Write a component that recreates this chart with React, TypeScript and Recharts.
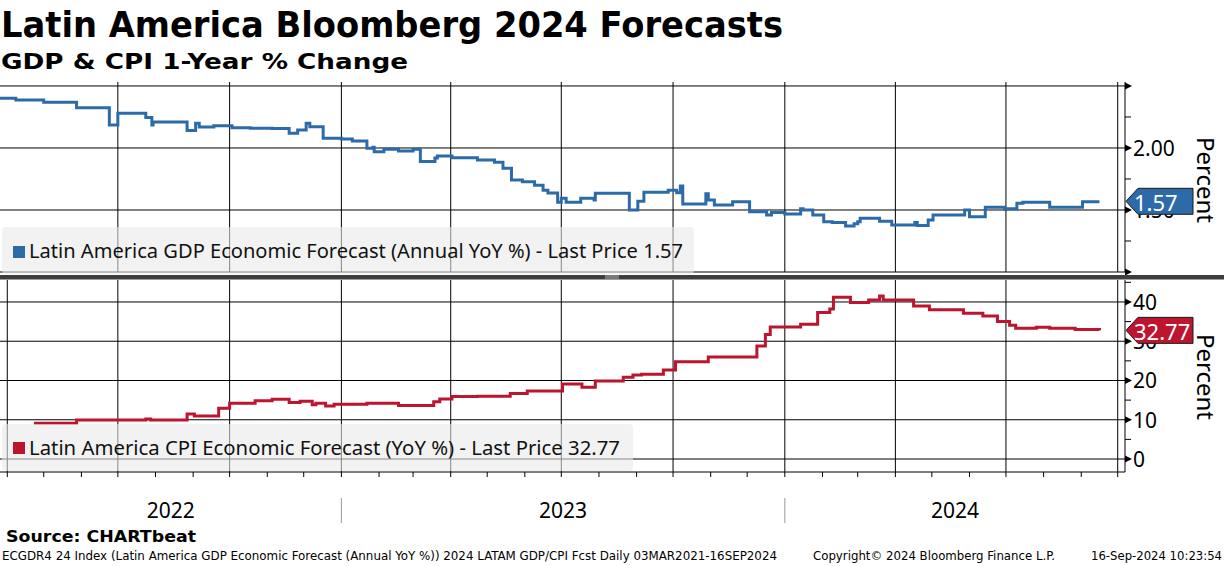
import React from 'react';
import { LineChart, Line, XAxis, YAxis, CartesianGrid } from 'recharts';

// ---------------- DATA ----------------
const gdpDates = [
  '2022-03-26', '2022-04-08', '2022-05-01', '2022-05-28', '2022-06-24', '2022-07-01', '2022-07-24', '2022-07-29',
  '2022-07-30', '2022-08-27', '2022-09-03', '2022-09-06', '2022-09-18', '2022-10-03', '2022-10-18', '2022-11-05',
  '2022-11-19', '2022-11-26', '2022-12-03', '2022-12-06', '2022-12-17', '2023-01-01', '2023-01-10', '2023-01-22',
  '2023-01-27', '2023-01-28', '2023-02-05', '2023-02-17', '2023-03-01', '2023-03-07', '2023-03-19', '2023-03-21',
  '2023-04-02', '2023-04-23', '2023-05-07', '2023-05-14', '2023-05-21', '2023-05-30', '2023-06-09', '2023-06-16',
  '2023-06-20', '2023-06-28', '2023-07-01', '2023-07-05', '2023-07-17', '2023-07-28', '2023-07-29', '2023-08-26',
  '2023-09-02', '2023-09-07', '2023-09-27', '2023-10-04', '2023-10-07', '2023-10-09', '2023-10-28', '2023-10-30',
  '2023-11-04', '2023-11-19', '2023-12-03', '2023-12-17', '2023-12-21', '2024-01-01', '2024-01-14', '2024-01-16',
  '2024-01-24', '2024-02-02', '2024-02-09', '2024-02-20', '2024-02-27', '2024-03-01', '2024-03-03', '2024-03-19',
  '2024-03-29', '2024-04-17', '2024-04-19', '2024-04-28', '2024-05-02', '2024-05-28', '2024-06-01', '2024-06-14',
  '2024-06-30', '2024-07-10', '2024-07-15', '2024-08-06', '2024-09-02', '2024-09-16',
];
const gdpValues = [
  2.40, 2.387, 2.368, 2.325, 2.185, 2.28, 2.245, 2.185,
  2.21, 2.14, 2.20, 2.17, 2.18, 2.164, 2.16, 2.157,
  2.118, 2.145, 2.20, 2.172, 2.078, 2.072, 2.056, 1.997,
  2.005, 1.97, 1.99, 1.975, 1.99, 1.89, 1.92, 1.935,
  1.922, 1.903, 1.885, 1.836, 1.742, 1.728, 1.70, 1.66,
  1.638, 1.562, 1.594, 1.562, 1.594, 1.58, 1.635, 1.50,
  1.57, 1.643, 1.66, 1.64, 1.694, 1.548, 1.63, 1.58,
  1.54, 1.567, 1.486, 1.46, 1.48, 1.468, 1.51, 1.50,
  1.46, 1.406, 1.40, 1.371, 1.39, 1.406, 1.433, 1.41,
  1.379, 1.40, 1.374, 1.42, 1.46, 1.50, 1.446, 1.522,
  1.51, 1.554, 1.562, 1.522, 1.567, 1.567,
];

const cpiDates = [
  '2022-04-23', '2022-05-28', '2022-07-24', '2022-07-28', '2022-08-27', '2022-09-02', '2022-09-22', '2022-10-01',
  '2022-10-22', '2022-11-05', '2022-11-19', '2022-11-28', '2022-12-08', '2022-12-11', '2022-12-19', '2022-12-26',
  '2023-01-22', '2023-02-17', '2023-03-18', '2023-03-23', '2023-04-02', '2023-04-23', '2023-05-20', '2023-06-03',
  '2023-07-02', '2023-07-18', '2023-07-29', '2023-08-21', '2023-08-29', '2023-09-05', '2023-09-23', '2023-10-03',
  '2023-10-30', '2023-12-09', '2023-12-16', '2023-12-20', '2024-01-14', '2024-01-28', '2024-02-07', '2024-02-10',
  '2024-02-24', '2024-03-10', '2024-03-19', '2024-03-22', '2024-04-16', '2024-04-29', '2024-05-27', '2024-06-12',
  '2024-06-24', '2024-07-04', '2024-07-09', '2024-07-26', '2024-08-06', '2024-08-27', '2024-09-16',
];
const cpiValues = [
  9.09, 9.94, 10.2, 9.94, 11.46, 10.96, 12.9, 14.2,
  14.86, 15.2, 14.4, 14.7, 13.8, 14.2, 13.5, 13.93,
  14.2, 13.6, 14.6, 15.3, 15.9, 16.0, 16.7, 17.3,
  19.1, 18.3, 19.9, 20.8, 21.4, 21.6, 22.7, 24.8,
  26.0, 28.8, 31.7, 33.6, 34.3, 37.3, 38.2, 41.2,
  39.9, 40.5, 41.5, 40.5, 39.0, 38.0, 37.1, 36.4,
  35.0, 34.1, 33.3, 33.55, 33.3, 33.0, 32.77,
];

const gdpLast = 1.57;
const cpiLast = 32.77;

const domainStart = '2022-03-26';
const domainEnd = '2024-10-07';

const monthStarts = [
  '2022-04-01', '2022-05-01', '2022-06-01', '2022-07-01', '2022-08-01', '2022-09-01', '2022-10-01', '2022-11-01', '2022-12-01',
  '2023-01-01', '2023-02-01', '2023-03-01', '2023-04-01', '2023-05-01', '2023-06-01', '2023-07-01', '2023-08-01', '2023-09-01',
  '2023-10-01', '2023-11-01', '2023-12-01', '2024-01-01', '2024-02-01', '2024-03-01', '2024-04-01', '2024-05-01', '2024-06-01',
  '2024-07-01', '2024-08-01', '2024-09-01', '2024-10-01',
];
const quarterStarts = [
  '2022-04-01', '2022-07-01', '2022-10-01', '2023-01-01', '2023-04-01', '2023-07-01', '2023-10-01',
  '2024-01-01', '2024-04-01', '2024-07-01', '2024-10-01',
];
const yearStarts = ['2023-01-01', '2024-01-01'];
const yearLabels = ['2022', '2023', '2024'];

const gdpAxisTicks = [1, 1.25, 1.5, 1.75, 2, 2.25, 2.5];
const gdpMajorTicks = [1, 1.5, 2, 2.5];
const gdpLabeledTicks = [1.5, 2];
const gdpGridValues = [1, 1.5, 2, 2.5];

const cpiAxisTicks = [0, 5, 10, 15, 20, 25, 30, 35, 40, 45];
const cpiMajorTicks = [0, 10, 20, 30, 40];
const cpiLabeledTicks = [0, 10, 20, 30, 40];
const cpiGridValues = [0, 10, 20, 30, 40];

const gdpDomain: [number, number] = [1.0, 2.532];
const cpiDomain: [number, number] = [-3.31, 45.6];

const gdpLegend = `Latin America GDP Economic Forecast (Annual YoY %) - Last Price ${gdpLast.toFixed(2)}`;
const cpiLegend = `Latin America CPI Economic Forecast (YoY %) - Last Price ${cpiLast.toFixed(2)}`;

// ---------------- BUILD ----------------
const ts = (d: string) => Date.parse(d + 'T00:00:00Z');
const T0 = ts(domainStart);
const T1 = ts(domainEnd);
const gdpData = gdpDates.map((d, i) => ({ t: ts(d), v: gdpValues[i] }));
const cpiData = cpiDates.map((d, i) => ({ t: ts(d), v: cpiValues[i] }));
const monthTicks = monthStarts.map(ts);
const quarterTicks = quarterStarts.map(ts);
const yearStartTicks = yearStarts.map(ts);
const yearBounds = [T0, ...yearStartTicks, T1];
const yearMidTicks = yearLabels.map((_, i) => (yearBounds[i] + yearBounds[i + 1]) / 2);
const yearAxisTicks = [...yearMidTicks, ...yearStartTicks].sort((a, b) => a - b);

const BLUE = '#2d6ba8';
const RED = '#bd142f';
const W = 1224;
const H = 566;
const AXIS_W = 99;
const AXIS_X = W - AXIS_W;
const FONT = "'Noto Sans', 'DejaVu Sans', sans-serif";

const near = (a: number, b: number) => Math.abs(a - b) < 1e-9;

// Right axis tick: arrows at majors, short lines at minors, labels, and the last-price tag
const makeYTick = (
  majors: number[],
  labeled: number[],
  fmt: (v: number) => string,
  last: number,
  color: string,
) => (props: any) => {
  const { y, payload } = props;
  const v = payload.value as number;
  if (near(v, last)) {
    const tip = AXIS_X + 1;
    const right = tip + 67;
    const h = 13;
    return (
      <g>
        <path
          d={`M${tip},${y} L${tip + 12},${y - h} L${right},${y - h} L${right},${y + h} L${tip + 12},${y + h} Z`}
          fill={color}
          stroke="#1a1a1a"
          strokeWidth={1}
        />
        <text x={tip + 8} y={y + 1} dominantBaseline="central" fontSize={22} fontFamily={FONT} fill="#fff">
          {last.toFixed(2)}
        </text>
      </g>
    );
  }
  const isMajor = majors.some((m) => near(m, v));
  const isLabeled = labeled.some((m) => near(m, v));
  return (
    <g>
      {isMajor ? (
        <polygon points={`${AXIS_X},${y - 3.5} ${AXIS_X + 7},${y} ${AXIS_X},${y + 3.5}`} fill="#000" />
      ) : (
        <line x1={AXIS_X} x2={AXIS_X + 6} y1={y} y2={y} stroke="#000" strokeWidth={1} />
      )}
      {isLabeled && (
        <text x={AXIS_X + 8} y={y} dominantBaseline="central" fontSize={21} fontFamily={FONT} fill="#000">
          {fmt(v)}
        </text>
      )}
    </g>
  );
};

const GdpTick = makeYTick(gdpMajorTicks, gdpLabeledTicks, (v) => v.toFixed(2), gdpLast, BLUE);
const CpiTick = makeYTick(cpiMajorTicks, cpiLabeledTicks, (v) => String(v), cpiLast, RED);

const EmptyTick = () => <g />;

const YearTick = (props: any) => {
  const { x, payload } = props;
  const v = payload.value as number;
  const idx = yearMidTicks.indexOf(v);
  if (idx >= 0) {
    return (
      <text x={x} y={518} textAnchor="middle" fontSize={21} fontFamily={FONT} fill="#000">
        {yearLabels[idx]}
      </text>
    );
  }
  return <line x1={x} x2={x} y1={498} y2={523} stroke="#9a9a9a" strokeWidth={1} />;
};

export default function App() {
  return (
    <div style={{ position: 'absolute', left: 0, top: 0, width: W, height: H, background: '#fff', overflow: 'hidden' }}>
      <div style={{ position: 'absolute', left: 0, top: 0 }}>
        <LineChart width={W} height={280} data={gdpData} margin={{ top: 82, right: 0, bottom: 8, left: 0 }}>
          <CartesianGrid stroke="#000" strokeWidth={1} horizontalValues={gdpGridValues} verticalValues={quarterTicks} />
          <XAxis type="number" dataKey="t" domain={[T0, T1]} allowDataOverflow hide ticks={quarterTicks} />
          <YAxis
            orientation="right"
            width={AXIS_W}
            type="number"
            domain={gdpDomain}
            allowDataOverflow
            ticks={[...gdpAxisTicks, gdpLast]}
            interval={0}
            tick={<GdpTick />}
            tickLine={false}
            axisLine={{ stroke: '#000', strokeWidth: 1 }}
          />
          <Line type="stepAfter" dataKey="v" stroke={BLUE} strokeWidth={3} dot={false} activeDot={false} isAnimationActive={false} />
        </LineChart>
      </div>
      <div style={{ position: 'absolute', left: 0, top: 0 }}>
        <LineChart width={W} height={H} data={cpiData} margin={{ top: 280, right: 0, bottom: 39, left: 0 }}>
          <CartesianGrid stroke="#000" strokeWidth={1} horizontalValues={cpiGridValues} verticalValues={quarterTicks} />
          <XAxis
            type="number"
            dataKey="t"
            domain={[T0, T1]}
            allowDataOverflow
            ticks={monthTicks}
            interval={0}
            tick={<EmptyTick />}
            tickSize={5}
            height={5}
            tickLine={{ stroke: '#000' }}
            axisLine={{ stroke: '#000' }}
          />
          <XAxis
            xAxisId="yr"
            type="number"
            dataKey="t"
            domain={[T0, T1]}
            allowDataOverflow
            ticks={yearAxisTicks}
            interval={0}
            tick={<YearTick />}
            tickLine={false}
            axisLine={false}
            height={50}
          />
          <YAxis
            orientation="right"
            width={AXIS_W}
            type="number"
            domain={cpiDomain}
            allowDataOverflow
            ticks={[...cpiAxisTicks, cpiLast]}
            interval={0}
            tick={<CpiTick />}
            tickLine={false}
            axisLine={{ stroke: '#000', strokeWidth: 1 }}
          />
          <Line type="stepAfter" dataKey="v" stroke={RED} strokeWidth={3} dot={false} activeDot={false} isAnimationActive={false} />
        </LineChart>
      </div>
      <svg
        width={W}
        height={H}
        style={{ position: 'absolute', left: 0, top: 0, pointerEvents: 'none' }}
      >
        <text x={1} y={37} fontSize={36} fontWeight="bold" fontFamily="'DejaVu Sans', sans-serif" fill="#000" textLength={782} lengthAdjust="spacingAndGlyphs">
          Latin America Bloomberg 2024 Forecasts
        </text>
        <text x={1} y={68.5} fontSize={22} fontWeight="bold" fontFamily="'DejaVu Sans', sans-serif" fill="#000" textLength={407} lengthAdjust="spacingAndGlyphs">
          GDP &amp; CPI 1-Year % Change
        </text>

        {/* separator bar between panels */}
        <rect x={0} y={275} width={W} height={4.5} fill="#3d3d3d" />
        <rect x={605} y={275.5} width={14} height={1} fill="#b5b5b5" />
        <rect x={605} y={277.5} width={14} height={1} fill="#b5b5b5" />

        {/* legends */}
        <rect x={2} y={227} width={692} height={47} rx={4} fill="#e9e9e9" fillOpacity={0.59} />
        <rect x={13} y={246} width={12} height={12} fill={BLUE} />
        <text x={29} y={258} fontSize={20} fontFamily={FONT} fill="#111" textLength={654} lengthAdjust="spacingAndGlyphs">
          {gdpLegend}
        </text>
        <rect x={2} y={424} width={631} height={47} rx={4} fill="#e9e9e9" fillOpacity={0.59} />
        <rect x={13} y={442} width={12} height={12} fill={RED} />
        <text x={29} y={455} fontSize={20} fontFamily={FONT} fill="#111" textLength={591} lengthAdjust="spacingAndGlyphs">
          {cpiLegend}
        </text>

        {/* axis titles */}
        <text transform="translate(1197,180) rotate(90)" textAnchor="middle" fontSize={24} fontFamily={FONT} fill="#000">
          Percent
        </text>
        <text transform="translate(1197,377) rotate(90)" textAnchor="middle" fontSize={24} fontFamily={FONT} fill="#000">
          Percent
        </text>

        {/* footer */}
        <text x={6} y={542} fontSize={16} fontWeight="bold" fontFamily="'DejaVu Sans', sans-serif" fill="#000" textLength={190} lengthAdjust="spacingAndGlyphs">
          Source: CHARTbeat
        </text>
        <text x={2} y={560} fontSize={12} fontFamily="'DejaVu Sans Condensed', 'DejaVu Sans', sans-serif" fill="#000" textLength={775} lengthAdjust="spacingAndGlyphs">
          ECGDR4 24 Index (Latin America GDP Economic Forecast (Annual YoY %)) 2024 LATAM GDP/CPI Fcst  Daily 03MAR2021-16SEP2024
        </text>
        <text x={813} y={560} fontSize={12} fontFamily="'DejaVu Sans Condensed', 'DejaVu Sans', sans-serif" fill="#000" textLength={242} lengthAdjust="spacingAndGlyphs">
          Copyright© 2024 Bloomberg Finance L.P.
        </text>
        <text x={1091} y={560} fontSize={12} fontFamily="'DejaVu Sans Condensed', 'DejaVu Sans', sans-serif" fill="#000" textLength={131} lengthAdjust="spacingAndGlyphs">
          16-Sep-2024 10:23:54
        </text>
      </svg>
    </div>
  );
}
